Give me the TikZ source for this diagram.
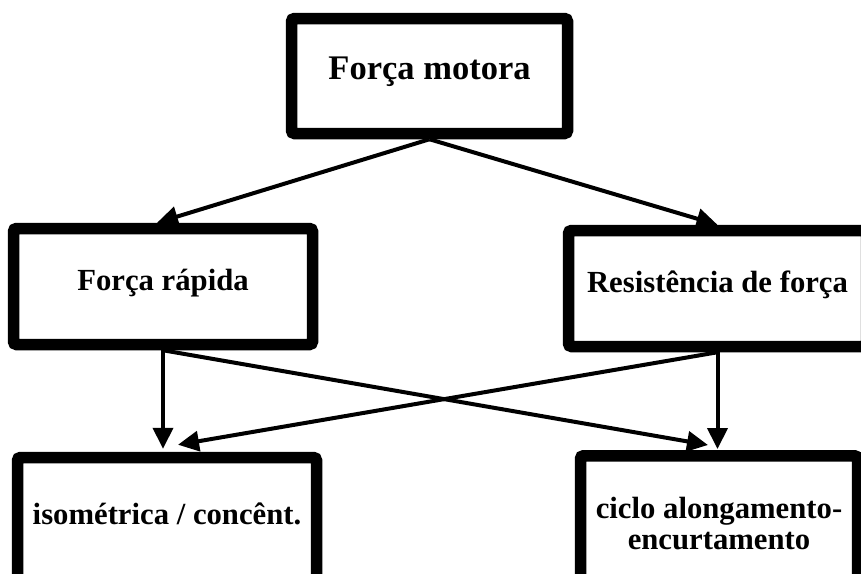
\documentclass[tikz,border=0pt]{standalone}
\usepackage{fontspec}
\setmainfont{Liberation Serif}
\usepackage{xcolor}
\usepackage{tikz}
\usetikzlibrary{arrows.meta}
\definecolor{tinta}{HTML}{000000}
\definecolor{fundo}{HTML}{FFFFFF}

\begin{document}
\begin{tikzpicture}[x=1pt, y=-1pt,
  caixa/.style={draw=tinta, line width=11.5pt, rounded corners=3pt, inner sep=0pt,
    font=\bfseries\fontsize{30.7}{30}\selectfont, text height=0.8em, text depth=0.05em},
  caixa2/.style={draw=tinta, line width=11.5pt, rounded corners=3pt, inner sep=0pt,
    font=\bfseries\fontsize{30.7}{31}\selectfont, align=center},
  seta/.style={draw=tinta, line width=4pt, -{Triangle[length=21pt,width=20pt]}}]
  \useasboundingbox[fill=fundo] (0,0) rectangle (861,573);
  \clip (0,0) rectangle (861,573);

  \node[caixa, minimum width=276pt, minimum height=115pt,
    font=\bfseries\fontsize{34.5}{40}\selectfont] (motora) at (429.5,76) {Força motora};
  \node[caixa, minimum width=299pt, minimum height=116pt] (rapida) at (163,286.5) {Força rápida};
  \node[caixa, minimum width=298pt, minimum height=116pt] (resist) at (717.5,288.5) {Resistência de força};
  \node[caixa, minimum width=299pt, minimum height=127pt] (isom) at (167,521) {isométrica / concênt.};
  \node[caixa2, minimum width=277pt, minimum height=136.5pt] (ciclo) at (719,524) {ciclo alongamento-\\encurtamento};

  \draw[seta] (motora.south) -- ([xshift=-6pt]rapida.north);
  \draw[seta] (motora.south) -- (resist.north);

  \draw[seta, shorten >=3pt] (rapida.south) -- (rapida.south |- isom.north);
  \draw[seta] (rapida.south) -- ([xshift=-11pt, yshift=5pt]ciclo.north);
  \draw[seta, shorten >=1pt] (resist.south) -- (resist.south |- ciclo.north);
  \draw[seta] (resist.south) -- ([xshift=11pt, yshift=7pt]isom.north);
\end{tikzpicture}
\end{document}
